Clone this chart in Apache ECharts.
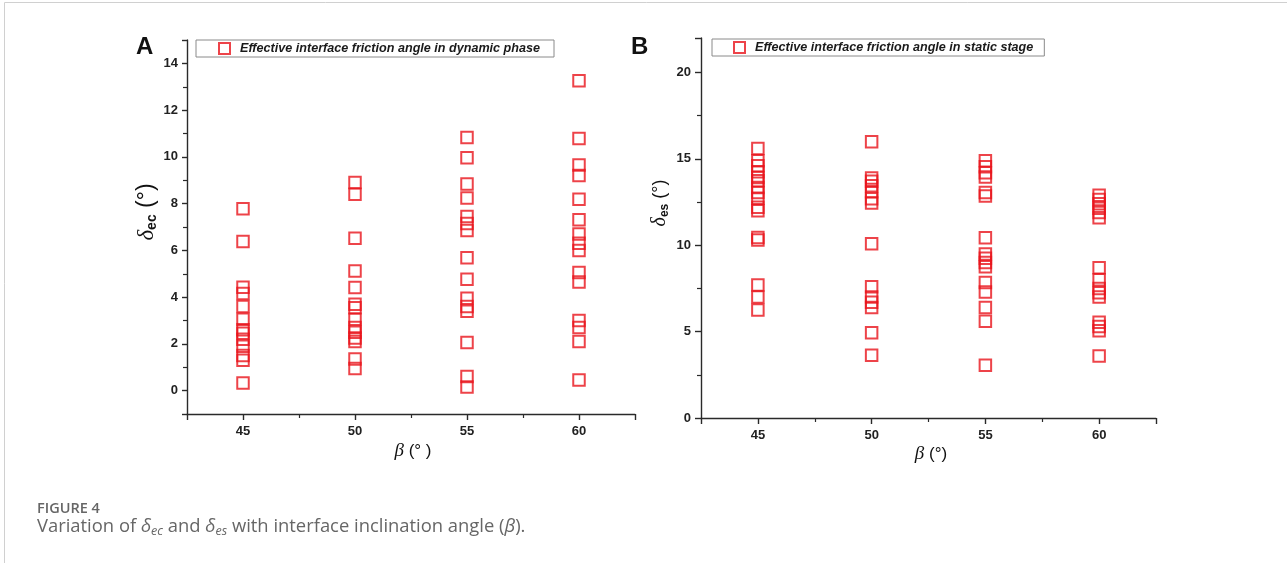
<!DOCTYPE html>
<html>
<head>
    <meta charset="utf-8">
    <title>Figure 4</title>
    <script src="https://cdn.jsdelivr.net/npm/echarts@6/dist/echarts.min.js"></script>
    <style>
        html, body { margin: 0; padding: 0; background: #fff; }
    </style>
</head>
<body>
<div id="main" style="width: 1287px;height:563px;"></div>
<script>
    // inclination angles (x)
    var betaValues = [45, 50, 55, 60];

    // effective interface friction angle, dynamic phase (panel A)
    var dynamic45 = [7.78, 6.38, 4.42, 4.15, 3.6, 3.05, 2.6, 2.45, 2.2, 1.9, 1.5, 1.3, 0.33];
    var dynamic50 = [8.9, 8.4, 6.52, 5.12, 4.41, 3.7, 3.55, 3.05, 2.7, 2.5, 2.25, 2.1, 1.35, 0.95];
    var dynamic55 = [10.83, 9.96, 8.84, 8.24, 7.45, 7.15, 6.85, 5.68, 4.77, 3.95, 3.6, 3.4, 2.06, 0.6, 0.15];
    var dynamic60 = [13.26, 10.79, 9.65, 9.2, 8.19, 7.31, 6.7, 6.3, 6.0, 5.05, 4.65, 3.0, 2.7, 2.1, 0.45];

    // effective interface friction angle, static stage (panel B)
    var static45 = [15.6, 14.9, 14.6, 14.26, 13.93, 13.74, 13.35, 13.06, 12.72, 12.2, 12.0, 10.45, 10.3, 7.7, 7.0, 6.25];
    var static50 = [16.0, 13.9, 13.7, 13.45, 13.1, 12.7, 12.45, 10.09, 7.6, 7.0, 6.7, 6.4, 4.94, 3.63];
    var static55 = [14.9, 14.55, 14.2, 13.95, 13.05, 12.85, 10.44, 9.5, 9.25, 9.0, 8.75, 7.85, 7.3, 6.4, 5.6, 3.05];
    var static60 = [12.9, 12.65, 12.4, 12.15, 11.9, 11.6, 8.7, 8.0, 7.5, 7.25, 7.0, 5.55, 5.3, 5.05, 3.59];

    var dynamicName = 'Effective interface friction angle in dynamic phase';
    var staticName = 'Effective interface friction angle in static stage';

    function pairs(groups) {
        var out = [];
        for (var i = 0; i < groups.length; i++) {
            for (var j = 0; j < groups[i].length; j++) {
                out.push([betaValues[i], groups[i][j]]);
            }
        }
        return out;
    }

    var red = '#e8141c';
    var axisColor = '#2a2a2a';
    var labelStyle = { color: '#222', fontFamily: 'Arial, Liberation Sans', fontWeight: 'bold', fontSize: 13 };
    var markStyle = { color: 'rgba(0,0,0,0)', borderColor: red, borderWidth: 2 };

    function xAxis(grid) {
        return {
            type: 'value', gridIndex: grid, min: 42.5, max: 62.5, splitNumber: 4,
            axisLine: { onZero: false, lineStyle: { color: axisColor, width: 1.4 } },
            axisTick: { length: 6, lineStyle: { color: axisColor, width: 1.4 } },
            minorTick: { show: true, splitNumber: 2, length: 4, lineStyle: { color: axisColor, width: 1.2 } },
            axisLabel: Object.assign({ margin: 11, showMinLabel: false, showMaxLabel: false }, labelStyle),
            splitLine: { show: false }
        };
    }

    function legendOpt(name, left, top, pad) {
        return {
            data: [name], left: left, top: top, orient: 'horizontal',
            padding: pad, borderColor: '#8a8a8a', borderWidth: 1, backgroundColor: '#fff',
            itemWidth: 11, itemHeight: 11, icon: 'rect', itemStyle: markStyle,
            textStyle: { fontFamily: 'Arial, Liberation Sans', fontStyle: 'italic', fontWeight: 'bold', fontSize: 12.6, color: '#1a1a1a', padding: [0, 0, 0, 5] },
            selectedMode: false
        };
    }

    var myChart = echarts.init(document.getElementById('main'));
    var option = {
        animation: false,
        grid: [
            { left: 187, top: 40, width: 448, height: 374 },
            { left: 701, top: 38, width: 455, height: 380 }
        ],
        xAxis: [xAxis(0), xAxis(1)],
        yAxis: [
            {
                type: 'value', gridIndex: 0, min: -1, max: 15, splitNumber: 8,
                axisLine: { show: true, onZero: false, lineStyle: { color: axisColor, width: 1.4 } },
                axisTick: { show: true, length: 5, lineStyle: { color: axisColor, width: 1.4 } },
                minorTick: { show: true, splitNumber: 2, length: 4, lineStyle: { color: axisColor, width: 1.2 } },
                axisLabel: Object.assign({ margin: 9, showMinLabel: false, showMaxLabel: false }, labelStyle),
                splitLine: { show: false }
            },
            {
                type: 'value', gridIndex: 1, min: 0, max: 22, interval: 5,
                axisLine: { show: true, onZero: false, lineStyle: { color: axisColor, width: 1.4 } },
                axisTick: { show: true, length: 6, lineStyle: { color: axisColor, width: 1.4 } },
                minorTick: { show: true, splitNumber: 2, length: 4, lineStyle: { color: axisColor, width: 1.2 } },
                axisLabel: Object.assign({ margin: 10, showMaxLabel: false }, labelStyle),
                splitLine: { show: false }
            }
        ],
        legend: [
            legendOpt(dynamicName, 196, 40, [2, 14, 2, 22]),
            legendOpt(staticName, 712, 39, [2, 11, 2, 21])
        ],
        series: [
            {
                name: dynamicName, type: 'scatter', xAxisIndex: 0, yAxisIndex: 0,
                symbol: 'rect', symbolSize: 11.5, itemStyle: markStyle, emphasis: { disabled: true },
                data: pairs([dynamic45, dynamic50, dynamic55, dynamic60])
            },
            {
                name: staticName, type: 'scatter', xAxisIndex: 1, yAxisIndex: 1,
                symbol: 'rect', symbolSize: 11.5, itemStyle: markStyle, emphasis: { disabled: true },
                data: pairs([static45, static50, static55, static60])
            }
        ],
        graphic: [
            { type: 'rect', silent: true, z: -10, shape: { x: 4.5, y: 2.5, width: 1300, height: 600 }, style: { fill: 'none', stroke: '#d0d0d0', lineWidth: 1 } },
            { type: 'text', left: 136, top: 35, style: { text: 'A', font: 'bold 24px Arial, Liberation Sans', fill: '#111' } },
            { type: 'text', left: 631, top: 35, style: { text: 'B', font: 'bold 24px Arial, Liberation Sans', fill: '#111' } },
            {
                type: 'text', x: 147, y: 212, rotation: Math.PI / 2,
                style: {
                    text: '{d|δ}{s|ec}{p| (°)}', align: 'center', verticalAlign: 'middle',
                    rich: {
                        d: { font: 'italic 23px "Times New Roman", "Liberation Serif", serif', fill: '#111' },
                        s: { font: 'bold 14px Arial, Liberation Sans', fill: '#111', padding: [10, 0, 0, 0] },
                        p: { font: '23px Arial, Liberation Sans', fill: '#111' }
                    }
                }
            },
            {
                type: 'text', x: 660, y: 203, rotation: Math.PI / 2,
                style: {
                    text: '{d|δ}{s|es}{p| (°)}', align: 'center', verticalAlign: 'middle',
                    rich: {
                        d: { font: 'italic 20px "Times New Roman", "Liberation Serif", serif', fill: '#111' },
                        s: { font: 'bold 12px Arial, Liberation Sans', fill: '#111', padding: [9, 0, 0, 0] },
                        p: { font: '18px Arial, Liberation Sans', fill: '#111' }
                    }
                }
            },
            {
                type: 'text', x: 413, y: 451,
                style: {
                    text: '{b|β}{p| (° )}', align: 'center', verticalAlign: 'middle',
                    rich: {
                        b: { font: 'italic 19px "Times New Roman", "Liberation Serif", serif', fill: '#111' },
                        p: { font: '17px Arial, Liberation Sans', fill: '#111' }
                    }
                }
            },
            {
                type: 'text', x: 931, y: 454,
                style: {
                    text: '{b|β}{p| (°)}', align: 'center', verticalAlign: 'middle',
                    rich: {
                        b: { font: 'italic 19px "Times New Roman", "Liberation Serif", serif', fill: '#111' },
                        p: { font: '17px Arial, Liberation Sans', fill: '#111' }
                    }
                }
            },
            { type: 'text', left: 37, top: 501, style: { text: 'FIGURE 4', font: '600 14.5px "Open Sans"', fill: '#666' } },
            {
                type: 'text', left: 37, top: 518,
                style: {
                    text: '{t|Variation of }{d|δ}{s|ec}{t| and }{d|δ}{s|es}{t| with interface inclination angle (}{d|β}{t|).}',
                    rich: {
                        t: { font: '18.4px "Open Sans"', fill: '#666' },
                        d: { font: 'italic 18.4px "Open Sans"', fill: '#666' },
                        s: { font: 'italic 12.5px "Open Sans"', fill: '#666', padding: [8, 0, 0, 0] }
                    }
                }
            }
        ]
    };
    myChart.setOption(option);
</script>
</body>
</html>
